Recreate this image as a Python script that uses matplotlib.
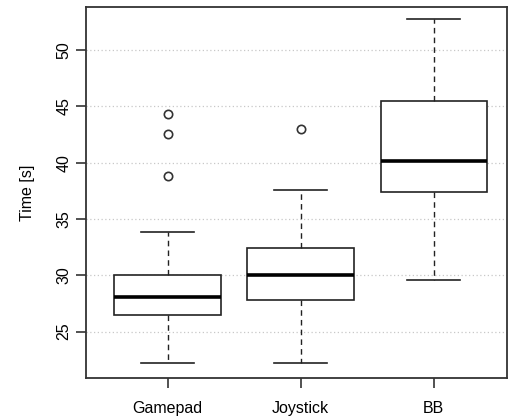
import matplotlib
matplotlib.use('Agg')
import matplotlib.pyplot as plt

plt.rcParams['font.family'] = ['Liberation Sans', 'DejaVu Sans']

# box statistics
labels = ['Gamepad', 'Joystick', 'BB']
whislo = [22.2, 22.2, 29.6]
q1 = [26.5, 27.8, 37.4]
med = [28.1, 30.0, 40.1]
q3 = [30.0, 32.4, 45.5]
whishi = [33.8, 37.6, 52.7]
fliers = [[38.8, 42.5, 44.3], [43.0], []]

stats = []
for i in range(len(labels)):
    stats.append({'label': labels[i], 'whislo': whislo[i], 'q1': q1[i], 'med': med[i],
                  'q3': q3[i], 'whishi': whishi[i], 'fliers': fliers[i]})

fig = plt.figure(figsize=(5.08, 4.17), dpi=100)
ax = fig.add_axes([0.169, 0.094, 0.829, 0.889])

ax.yaxis.grid(True, linestyle=(0, (1, 2)), color='#c8c8c8', linewidth=0.9, zorder=0)
ax.set_axisbelow(True)

ax.bxp(stats, positions=[1, 2, 3], widths=0.8, patch_artist=True,
       boxprops=dict(facecolor='white', edgecolor='#222222', linewidth=1.2),
       medianprops=dict(color='black', linewidth=2.6),
       whiskerprops=dict(color='#222222', linestyle=(0, (4, 3)), linewidth=1.0),
       capprops=dict(color='#222222', linewidth=1.2),
       capwidths=0.4,
       flierprops=dict(marker='o', markerfacecolor='none', markeredgecolor='#333333',
                       markersize=6, markeredgewidth=1.2))

ax.set_xlim(0.386, 3.55)
ax.set_ylim(20.9, 53.8)
ax.set_yticks([25, 30, 35, 40, 45, 50])
ax.set_ylabel('Time [s]', fontsize=11.5, labelpad=15)
for lab in ax.get_yticklabels():
    lab.set_rotation(90)
    lab.set_va('center')
ax.tick_params(axis='both', labelsize=11.5, direction='out', length=7, width=1.1, color='#222222')
ax.tick_params(axis='x', pad=10)
for sp in ax.spines.values():
    sp.set_color('#333333')
    sp.set_linewidth(1.3)

fig.savefig('out.png', dpi=100)
